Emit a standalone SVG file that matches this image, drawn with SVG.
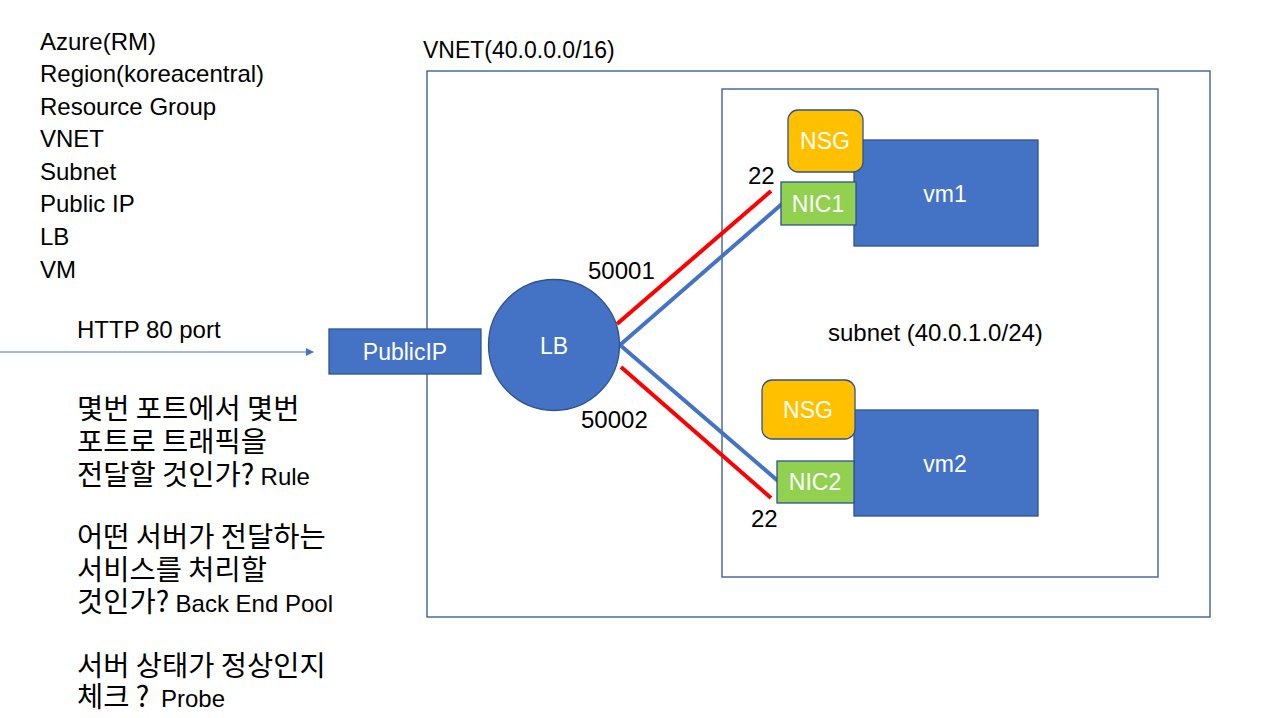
<svg xmlns="http://www.w3.org/2000/svg" width="1280" height="718" viewBox="0 0 1280 718">
<style>
.t{font-family:"Liberation Sans",Arial,sans-serif;font-size:24px;fill:#000}
.k{font-family:"Noto Sans CJK KR","Liberation Sans",sans-serif;font-size:28.5px;fill:#000}
.l{font-family:"Liberation Sans",Arial,sans-serif;font-size:24px}
.w{font-family:"Liberation Sans",Arial,sans-serif;font-size:23px;fill:#fff;text-anchor:middle;dominant-baseline:central}
.blue{fill:#4472C4;stroke:#2F528F;stroke-width:1.3}
.nsg{fill:#FFC000;stroke:#2F528F;stroke-width:1.3}
.nic{fill:#92D050;stroke:#2F528F;stroke-width:1.3}
.frame{fill:none;stroke:#2F5597;stroke-width:1.3}
.red{stroke:#FF0000;stroke-width:4;fill:none}
.bl{stroke:#4472C4;stroke-width:4;fill:none}
</style>
<defs>
<marker id="ah" markerWidth="8" markerHeight="8" refX="7" refY="4" orient="auto" markerUnits="userSpaceOnUse">
<path d="M0,0 L8,4 L0,8 Z" fill="#4472C4"/>
</marker>
</defs>
<rect width="1280" height="718" fill="#fff"/>
<g id="legend">
<text class="t" x="40" y="50">Azure(RM)</text>
<text class="t" x="40" y="82">Region(koreacentral)</text>
<text class="t" x="40" y="115">Resource Group</text>
<text class="t" x="40" y="147">VNET</text>
<text class="t" x="40" y="180">Subnet</text>
<text class="t" x="40" y="212">Public IP</text>
<text class="t" x="40" y="245">LB</text>
<text class="t" x="40" y="278">VM</text>
</g>
<g id="notes">
<text class="t" x="77" y="338">HTTP 80 port</text>
<text class="k" x="77" y="419">몇번 포트에서 몇번</text>
<text class="k" x="77" y="452">포트로 트래픽을</text>
<text class="k" x="77" y="485">전달할 것인가? <tspan class="l">Rule</tspan></text>
<text class="k" x="77" y="547">어떤 서버가 전달하는</text>
<text class="k" x="77" y="580">서비스를 처리할</text>
<text class="k" x="77" y="612">것인가? <tspan class="l">Back End Pool</tspan></text>
<text class="k" x="77" y="676">서버 상태가 정상인지</text>
<text class="k" x="77" y="707">체크 ? <tspan class="l" x="161">Probe</tspan></text>
</g>
<g id="vnet">
<rect class="frame" x="427" y="71" width="783" height="546"/>
<text class="t" x="423" y="58" style="font-size:23px">VNET(40.0.0.0/16)</text>
</g>
<g id="subnet">
<rect class="frame" x="722" y="89" width="436" height="488"/>
<text class="t" x="828" y="341">subnet (40.0.1.0/24)</text>
</g>
<g id="connectors">
<line x1="0" y1="352" x2="313" y2="352" stroke="#4472C4" stroke-width="1" marker-end="url(#ah)"/>
<line class="red" x1="617" y1="324" x2="771" y2="191"/>
<line class="bl" x1="620" y1="345" x2="783" y2="203"/>
<line class="bl" x1="620" y1="345" x2="778" y2="481"/>
<line class="red" x1="621" y1="367" x2="771" y2="498"/>
<text class="t" x="588" y="279">50001</text>
<text class="t" x="581" y="428">50002</text>
<text class="t" x="748" y="184">22</text>
<text class="t" x="751" y="527">22</text>
</g>
<g id="publicip">
<rect class="blue" x="329" y="329" width="152" height="45"/>
<text class="w" x="405" y="352">PublicIP</text>
</g>
<g id="lb">
<circle class="blue" cx="554" cy="345" r="65.5"/>
<text class="w" x="554" y="346">LB</text>
</g>
<g id="vm1">
<rect class="blue" x="854" y="140" width="184" height="106"/>
<text class="w" x="945" y="194">vm1</text>
</g>
<g id="nsg1">
<rect class="nsg" x="788" y="110" width="75" height="62" rx="10"/>
<text class="w" x="825" y="141">NSG</text>
</g>
<g id="nic1">
<rect class="nic" x="781" y="182" width="75" height="43"/>
<text class="w" x="818" y="204">NIC1</text>
</g>
<g id="vm2">
<rect class="blue" x="854" y="410" width="184" height="106"/>
<text class="w" x="945" y="464">vm2</text>
</g>
<g id="nsg2">
<rect class="nsg" x="762" y="380" width="93" height="59" rx="10"/>
<text class="w" x="808" y="410">NSG</text>
</g>
<g id="nic2">
<rect class="nic" x="777" y="461" width="77" height="42"/>
<text class="w" x="815" y="482">NIC2</text>
</g>
</svg>
